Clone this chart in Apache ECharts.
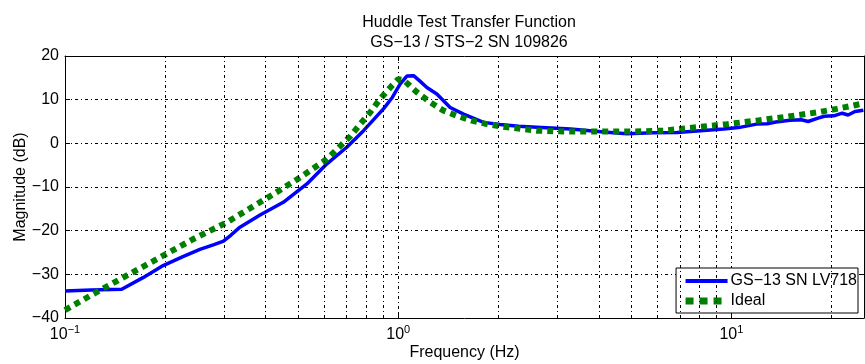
<!DOCTYPE html>
<html>
<head>
<meta charset="utf-8">
<script src="https://cdn.jsdelivr.net/npm/echarts@6/dist/echarts.min.js"></script>
<style>
  html, body { margin: 0; padding: 0; background: #fff; }
  #chart { width: 865px; height: 364px; }
</style>
</head>
<body>
<div id="chart"></div>
<script>
var blueFreq = [0.1, 0.12, 0.148, 0.172, 0.197, 0.225, 0.254, 0.28, 0.299, 0.315, 0.335, 0.385, 0.452, 0.532, 0.611, 0.701, 0.787, 0.903, 0.96, 1.014, 1.062, 1.112, 1.16, 1.219, 1.306, 1.432, 1.571, 1.804, 2.02, 2.3, 2.61, 3.29, 4.14, 4.86, 5.84, 6.87, 8.07, 9.48, 10.5, 11.9, 12.8, 13.6, 15.0, 16.2, 17.0, 18.1, 19.0, 20.3, 21.5, 22.4, 23.5, 24.9];
var blueDb = [-33.8, -33.6, -33.4, -30.7, -28.0, -26.0, -24.3, -23.2, -22.4, -21.0, -19.2, -16.4, -13.5, -9.3, -4.7, -0.9, 2.9, 7.9, 10.5, 13.6, 15.4, 15.5, 14.3, 12.8, 11.3, 8.2, 6.7, 4.8, 4.3, 3.9, 3.7, 3.3, 2.6, 2.2, 2.4, 2.5, 2.9, 3.3, 3.6, 4.4, 4.5, 4.9, 5.3, 5.4, 5.0, 5.7, 6.2, 6.3, 6.9, 6.5, 7.3, 7.6];

// ideal response
var idealFreq = [0.1, 0.1216, 0.153, 0.193, 0.243, 0.306, 0.377, 0.423, 0.508, 0.611, 0.718, 0.769, 0.824, 0.883, 0.957, 1.0, 1.037, 1.08, 1.138, 1.248, 1.368, 1.5, 1.665, 1.846, 2.07, 2.61, 3.21, 3.95, 4.97, 6.26, 7.89, 9.7, 11.9, 14.7, 18.1, 20.7, 24.4, 25];
var idealDb = [-38.2, -34.5, -30.3, -26.1, -21.9, -18.1, -13.9, -11.6, -7.8, -3.6, 1.6, 4.4, 7.1, 10.2, 13.2, 14.7, 14.5, 13.3, 11.7, 9.4, 7.5, 6.3, 5.2, 4.4, 3.8, 2.9, 2.7, 2.7, 2.7, 2.9, 3.7, 4.4, 5.2, 6.1, 7.1, 7.9, 9.0, 9.1];

// minor log grid positions
var gridFreqs = [0.2, 0.3, 0.4, 0.5, 0.6, 0.7, 0.8, 0.9, 2, 3, 4, 5, 6, 7, 8, 9, 20];

var seriesNames = ['GS\u221213 SN LV718', 'Ideal'];

function pairs(xs, ys) {
    return xs.map(function (x, i) { return [x, ys[i]]; });
}

var font = 'Liberation Sans, Arial, sans-serif';
var gridStyle = { color: '#000', width: 1, type: [3, 3, 1, 3] };

var chartDom = document.getElementById('chart');
var myChart = echarts.init(chartDom);

var option = {
    animation: false,
    backgroundColor: '#fff',
    textStyle: { fontFamily: font },
    title: {
        text: 'Huddle Test Transfer Function\nGS\u221213 / STS\u22122 SN 109826',
        left: 464, top: 8,
        textAlign: 'center',
        textStyle: { fontSize: 16, fontWeight: 'normal', color: '#000', lineHeight: 20, fontFamily: font }
    },
    legend: {
        data: [
            { name: seriesNames[0], lineStyle: { width: 4 } },
            { name: seriesNames[1], lineStyle: { width: 7, type: [8, 6] } }
        ],
        orient: 'vertical',
        right: 7, top: 268,
        backgroundColor: '#fff',
        borderColor: '#000', borderWidth: 1,
        padding: [5, 1, 4, 6],
        itemWidth: 42, itemHeight: 16, itemGap: 4,
        itemStyle: { opacity: 0 },
        textStyle: { fontSize: 16, color: '#000', fontFamily: font, padding: [0, 0, 0, -2] }
    },
    grid: { left: 65, right: 1, top: 56, bottom: 46, outerBoundsMode: 'none', containLabel: false },
    xAxis: [{
        type: 'log', logBase: 10, min: 0.1, max: 25,
        name: 'Frequency (Hz)', nameLocation: 'middle', nameGap: 27, nameMoveOverlap: false,
        nameTextStyle: { fontSize: 16, color: '#000' },
        axisLine: { onZero: false, lineStyle: { color: '#000', width: 1 } },
        axisTick: { inside: true, length: 5, lineStyle: { color: '#000' } },
        splitLine: { show: true, lineStyle: gridStyle },
        axisLabel: {
            color: '#000', margin: 6,
            formatter: function (v) {
                var l = Math.log10(v);
                var e = Math.round(l);
                if (Math.abs(l - e) > 1e-6) return '';
                return '{b|10}{s|' + (e < 0 ? '\u2212' + (-e) : e) + '}';
            },
            rich: {
                b: { fontSize: 16, color: '#000', verticalAlign: 'bottom' },
                s: { fontSize: 11, color: '#000', verticalAlign: 'bottom', padding: [0, 0, 8, 0] }
            }
        }
    }, {
        type: 'log', logBase: 10, min: 0.1, max: 25, position: 'top',
        axisLine: { show: true, onZero: false, lineStyle: { color: '#000', width: 1 } },
        axisTick: { show: true, inside: true, length: 5, lineStyle: { color: '#000' } },
        axisLabel: { show: false },
        splitLine: { show: false }
    }],
    yAxis: [{
        type: 'value', min: -40, max: 20, interval: 10,
        name: 'Magnitude (dB)', nameLocation: 'middle', nameGap: 36, nameMoveOverlap: false,
        nameTextStyle: { fontSize: 16, color: '#000' },
        axisLine: { show: true, onZero: false, lineStyle: { color: '#000', width: 1 } },
        axisTick: { show: true, inside: true, length: 5, lineStyle: { color: '#000' } },
        splitLine: { show: true, lineStyle: gridStyle },
        axisLabel: {
            color: '#000', fontSize: 16, margin: 6,
            formatter: function (v) { return v < 0 ? '\u2212' + (-v) : '' + v; }
        }
    }, {
        type: 'value', min: -40, max: 20, interval: 10, position: 'right',
        axisLine: { show: true, onZero: false, lineStyle: { color: '#000', width: 1 } },
        axisTick: { show: true, inside: true, length: 5, lineStyle: { color: '#000' } },
        axisLabel: { show: false },
        splitLine: { show: false }
    }],
    series: [
        {
            name: 'minor grid',
            type: 'line',
            data: [],
            z: 1,
            silent: true,
            markLine: {
                silent: true,
                symbol: ['none', 'none'],
                label: { show: false },
                lineStyle: gridStyle,
                data: gridFreqs.map(function (f) { return { xAxis: f }; })
            }
        },
        {
            name: seriesNames[0],
            type: 'line',
            data: pairs(blueFreq, blueDb),
            showSymbol: false, symbol: 'none',
            z: 3,
            itemStyle: { color: '#0000ff' },
            lineStyle: { color: '#0000ff', width: 3.5 }
        },
        {
            name: seriesNames[1],
            type: 'line',
            data: pairs(idealFreq, idealDb),
            showSymbol: false, symbol: 'none',
            z: 4,
            itemStyle: { color: '#008000' },
            lineStyle: { color: '#008000', width: 6, type: [6, 5] }
        }
    ]
};

option && myChart.setOption(option);
</script>
</body>
</html>
